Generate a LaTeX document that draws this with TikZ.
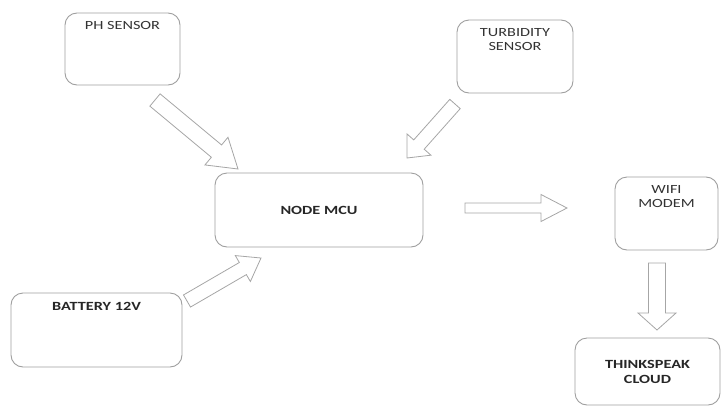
\documentclass[tikz,border=0pt]{standalone}
\usepackage{fontspec}
\setmainfont{Carlito}[FakeStretch=1.3]
\usetikzlibrary{calc}
\usetikzlibrary{positioning}

\tikzset{
  box/.style={draw=gray!75,line width=0.9pt,rounded corners=12pt,inner sep=0pt},
  lbl/.style={font=\fontsize{12.5}{13.5}\selectfont,text=black!80,align=center,inner sep=0pt},
  blbl/.style={font=\fontsize{12.5}{15}\selectfont\bfseries,text=black!85,align=center,inner sep=0pt},
  hollow/.style={draw=gray!70,line width=0.8pt,line join=miter,fill=white},
}

% outlined block arrow: tail, tip, shaft half width, head half width, head length
\newcommand{\blockarrow}[5]{%
  \coordinate (hb) at ($(#2)!#5!(#1)$);
  \draw[hollow] ($(#1)!#3!90:(#2)$) -- ($(hb)!#3!90:(#2)$) -- ($(hb)!#4!90:(#2)$)
    -- (#2) -- ($(hb)!#4!-90:(#2)$) -- ($(hb)!#3!-90:(#2)$) -- ($(#1)!#3!-90:(#2)$) -- cycle;}

\begin{document}
\begin{tikzpicture}[x=1pt,y=-1pt]
\useasboundingbox (0,0) rectangle (722,407);

\node[box,minimum width=115pt,minimum height=72pt] (ph) at (122.5,49) {};
\node[lbl,below=9pt of ph.north] (phtxt) {PH SENSOR};

\node[box,minimum width=116pt,minimum height=73pt] (turb) at (515,56.5) {};
\node[lbl,below=9pt of turb.north] (turbtxt) {TURBIDITY\\SENSOR};

\node[box,blbl,minimum width=208pt,minimum height=74pt] (mcu) at (319,210) {NODE MCU};

\node[box,minimum width=171pt,minimum height=74pt] (bat) at (96.5,330) {};
\node[blbl,below=10pt of bat.north] (battxt) {BATTERY 12V};

\node[box,minimum width=103pt,minimum height=73pt] (wifi) at (666.5,213.5) {};
\node[lbl,below=9pt of wifi.north] (wifitxt) {WIFI\\MODEM};

\node[box,blbl,minimum width=145pt,minimum height=67pt] (cloud) at (647.5,371.5) {THINKSPEAK\\CLOUD};

% arrow ends
\coordinate (phA) at (155,100);
\coordinate (phB) at (238,169);
\coordinate (turbA) at (455,104);
\coordinate (turbB) at (407,158);
\coordinate (batA) at (187,301);
\coordinate (batB) at (261,258);
\coordinate (mcuA) at (465,208);
\coordinate (mcuB) at (567,208);
\coordinate (wifiA) at (657,263);
\coordinate (wifiB) at (657,330);

\blockarrow{phA}{phB}{8pt}{18pt}{28pt}
\blockarrow{turbA}{turbB}{7pt}{16pt}{18pt}
\blockarrow{batA}{batB}{7pt}{15pt}{21pt}
\blockarrow{mcuA}{mcuB}{5pt}{13.5pt}{26pt}
\blockarrow{wifiA}{wifiB}{8.5pt}{19pt}{17pt}

\end{tikzpicture}
\end{document}
